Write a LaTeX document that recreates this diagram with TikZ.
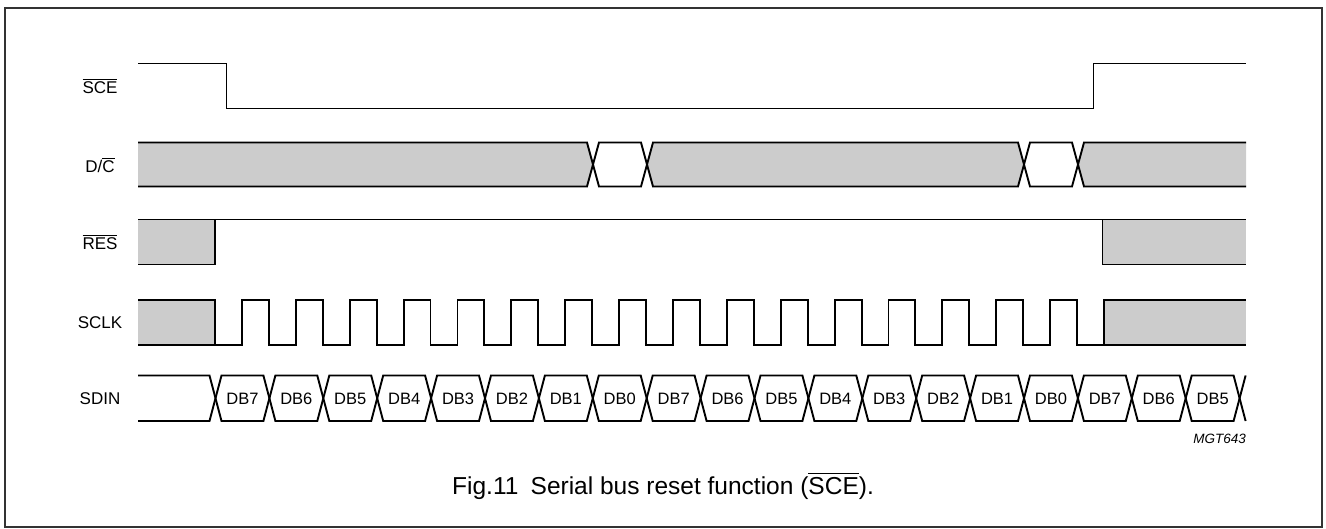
\documentclass[tikz,border=0pt]{standalone}
\usepackage{fontspec}
\setmainfont{Liberation Sans}
\definecolor{busgray}{HTML}{CCCCCC}
\definecolor{framegray}{HTML}{333333}
\newcommand\ovl[1]{\begingroup\setbox0\hbox{#1}\rlap{\rule[\dimexpr\ht0+0.1em\relax]{\wd0}{0.065em}}\box0\endgroup}
\begin{document}
\begin{tikzpicture}[x=1pt,y=-1pt,
  sig/.style={line width=1.9pt, line join=miter, line cap=butt},
  framestyle/.style={draw=framegray, line width=2pt},
  siglabel/.style={font=\fontsize{17}{20}\selectfont, anchor=center, inner sep=0pt},
  dbl/.style={font=\fontsize{16.5}{20}\selectfont, anchor=center, inner sep=0pt},
  busfill/.style={fill=busgray, draw=none}]
\useasboundingbox (0,0) rectangle (1326,528);
\draw[framestyle] (4.5,7.5) rectangle (1322,526.5);
\def\h{26.94}
\def\p{53.9}
% labels
\node[siglabel] (lsce) at (100,86) {\ovl{SCE}};
\node[siglabel] (ldc) at (100,165) {D/\ovl{C}};
\node[siglabel] (lres) at (100,242) {\ovl{RES}};
\node[siglabel] (lsclk) at (100,323) {SCLK};
\node[siglabel] (lsdin) at (100,398.5) {SDIN};
% SCE
\draw[sig] (138,63.5) -- (226.5,63.5) -- (226.5,108.5) -- (1093.5,108.5) -- (1093.5,63.5) -- (1246,63.5);
% D/C
\fill[busfill] (138,142.5) -- (587,142.5) -- (593,164.5) -- (587,186.5) -- (138,186.5) -- cycle;
\fill[busfill] (653,142.5) -- (647,164.5) -- (653,186.5) -- (1018,186.5) -- (1024,164.5) -- (1018,142.5) -- cycle;
\fill[busfill] (1084,142.5) -- (1078,164.5) -- (1084,186.5) -- (1246,186.5) -- (1246,142.5) -- cycle;
\draw[sig] (138,142.5) -- (587,142.5) -- (599,186.5) -- (641,186.5) -- (653,142.5) -- (1018,142.5) -- (1030,186.5) -- (1072,186.5) -- (1084,142.5) -- (1246,142.5);
\draw[sig] (138,186.5) -- (587,186.5) -- (599,142.5) -- (641,142.5) -- (653,186.5) -- (1018,186.5) -- (1030,142.5) -- (1072,142.5) -- (1084,186.5) -- (1246,186.5);
% RES
\fill[busfill] (138,219.5) rectangle (215,264.5);
\fill[busfill] (1102.5,219.5) rectangle (1246,264.5);
\draw[sig] (138,219.5) -- (1246,219.5);
\draw[sig] (138,264.5) -- (215,264.5) -- (215,219.5);
\draw[sig] (1102.5,219.5) -- (1102.5,264.5) -- (1246,264.5);
% SCLK
\fill[busfill] (138,300) rectangle (215,345);
\fill[busfill] ({215+33*\h},300) rectangle (1246,345);
\draw[sig] (138,345) -- (215,345);
\draw[sig] (138,300) -- (215,300) -- (215,345)
  \foreach \k in {0,...,15} { -- ({215+(2*\k+1)*\h},345) -- ({215+(2*\k+1)*\h},300) -- ({215+(2*\k+2)*\h},300) -- ({215+(2*\k+2)*\h},345) }
  -- ({215+33*\h},345) -- ({215+33*\h},300) -- (1246,300);
\draw[sig] ({215+33*\h},345) -- (1246,345);
% SDIN
\draw[sig] (138,375.5) \foreach \j in {0,...,9} { -- ({215.5+2*\j*\p-6},375.5) -- ({215.5+2*\j*\p+6},421) -- ({215.5+(2*\j+1)*\p-6},421) -- ({215.5+(2*\j+1)*\p+6},375.5) };
\draw[sig] (138,421) \foreach \j in {0,...,9} { -- ({215.5+2*\j*\p-6},421) -- ({215.5+2*\j*\p+6},375.5) -- ({215.5+(2*\j+1)*\p-6},375.5) -- ({215.5+(2*\j+1)*\p+6},421) };
\foreach \lab [count=\i from 0] in {DB7,DB6,DB5,DB4,DB3,DB2,DB1,DB0,DB7,DB6,DB5,DB4,DB3,DB2,DB1,DB0,DB7,DB6,DB5} {
  \node[dbl] (db\i) at ({215.5+(\i+0.5)*\p},398.5) {\lab};
}
\node[font=\itshape\fontsize{13.5}{16}\selectfont, anchor=east, inner sep=0pt] (mgt) at (1246,439) {MGT643};
\node[font=\fontsize{24.5}{28}\selectfont, anchor=center, inner sep=0pt] (cap) at (663,486) {Fig.11\hspace{0.5em}Serial bus reset function (\ovl{SCE}).};
\end{tikzpicture}
\end{document}
